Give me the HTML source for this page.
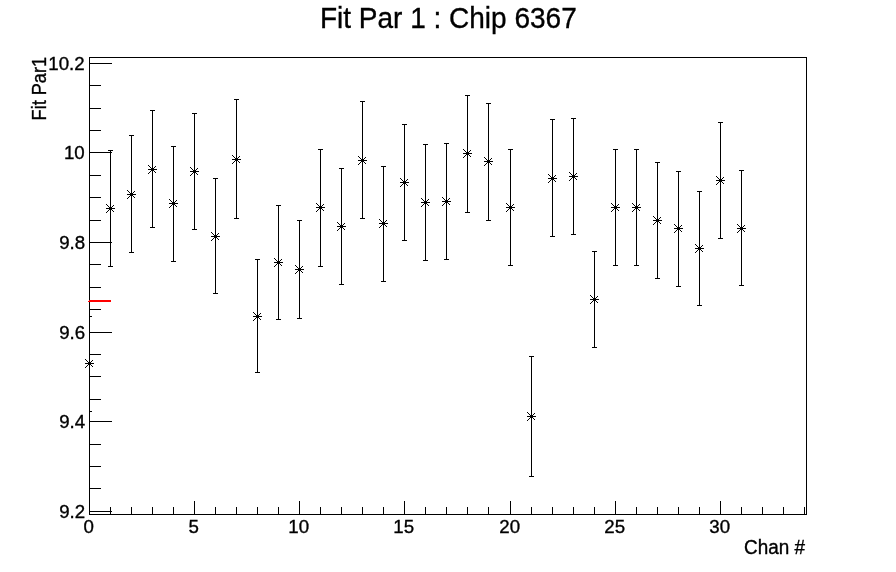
<!DOCTYPE html>
<html><head><meta charset="utf-8"><title>Fit Par 1 : Chip 6367</title>
<style>
html,body{margin:0;padding:0;background:#fff;}
svg{display:block;will-change:transform;}
text{font-family:"Liberation Sans",sans-serif;fill:#000;stroke:#000;stroke-width:0.35px;}
</style></head><body>
<svg width="896" height="572" viewBox="0 0 896 572">
<rect x="0" y="0" width="896" height="572" fill="#ffffff"/>
<g shape-rendering="crispEdges">
<rect x="89" y="57" width="718" height="1" fill="#000"/>
<rect x="89" y="514" width="718" height="1" fill="#000"/>
<rect x="89" y="57" width="1" height="458" fill="#000"/>
<rect x="806" y="57" width="1" height="458" fill="#000"/>
<rect x="89" y="63" width="23" height="1" fill="#000"/>
<rect x="89" y="85" width="12" height="1" fill="#000"/>
<rect x="89" y="108" width="12" height="1" fill="#000"/>
<rect x="89" y="130" width="12" height="1" fill="#000"/>
<rect x="89" y="152" width="23" height="1" fill="#000"/>
<rect x="89" y="175" width="12" height="1" fill="#000"/>
<rect x="89" y="197" width="12" height="1" fill="#000"/>
<rect x="89" y="220" width="12" height="1" fill="#000"/>
<rect x="89" y="242" width="23" height="1" fill="#000"/>
<rect x="89" y="264" width="12" height="1" fill="#000"/>
<rect x="89" y="287" width="12" height="1" fill="#000"/>
<rect x="89" y="309" width="12" height="1" fill="#000"/>
<rect x="89" y="332" width="23" height="1" fill="#000"/>
<rect x="89" y="354" width="12" height="1" fill="#000"/>
<rect x="89" y="376" width="12" height="1" fill="#000"/>
<rect x="89" y="399" width="12" height="1" fill="#000"/>
<rect x="89" y="421" width="23" height="1" fill="#000"/>
<rect x="89" y="444" width="12" height="1" fill="#000"/>
<rect x="89" y="466" width="12" height="1" fill="#000"/>
<rect x="89" y="488" width="12" height="1" fill="#000"/>
<rect x="89" y="511" width="23" height="1" fill="#000"/>
<rect x="89" y="501" width="1" height="14" fill="#000"/>
<rect x="110" y="507" width="1" height="8" fill="#000"/>
<rect x="131" y="507" width="1" height="8" fill="#000"/>
<rect x="152" y="507" width="1" height="8" fill="#000"/>
<rect x="173" y="507" width="1" height="8" fill="#000"/>
<rect x="194" y="501" width="1" height="14" fill="#000"/>
<rect x="215" y="507" width="1" height="8" fill="#000"/>
<rect x="236" y="507" width="1" height="8" fill="#000"/>
<rect x="257" y="507" width="1" height="8" fill="#000"/>
<rect x="278" y="507" width="1" height="8" fill="#000"/>
<rect x="299" y="501" width="1" height="14" fill="#000"/>
<rect x="320" y="507" width="1" height="8" fill="#000"/>
<rect x="341" y="507" width="1" height="8" fill="#000"/>
<rect x="362" y="507" width="1" height="8" fill="#000"/>
<rect x="383" y="507" width="1" height="8" fill="#000"/>
<rect x="404" y="501" width="1" height="14" fill="#000"/>
<rect x="425" y="507" width="1" height="8" fill="#000"/>
<rect x="446" y="507" width="1" height="8" fill="#000"/>
<rect x="467" y="507" width="1" height="8" fill="#000"/>
<rect x="488" y="507" width="1" height="8" fill="#000"/>
<rect x="510" y="501" width="1" height="14" fill="#000"/>
<rect x="531" y="507" width="1" height="8" fill="#000"/>
<rect x="552" y="507" width="1" height="8" fill="#000"/>
<rect x="573" y="507" width="1" height="8" fill="#000"/>
<rect x="594" y="507" width="1" height="8" fill="#000"/>
<rect x="615" y="501" width="1" height="14" fill="#000"/>
<rect x="636" y="507" width="1" height="8" fill="#000"/>
<rect x="657" y="507" width="1" height="8" fill="#000"/>
<rect x="678" y="507" width="1" height="8" fill="#000"/>
<rect x="699" y="507" width="1" height="8" fill="#000"/>
<rect x="720" y="501" width="1" height="14" fill="#000"/>
<rect x="741" y="507" width="1" height="8" fill="#000"/>
<rect x="762" y="507" width="1" height="8" fill="#000"/>
<rect x="783" y="507" width="1" height="8" fill="#000"/>
<rect x="804" y="507" width="1" height="8" fill="#000"/>
<rect x="89" y="316" width="1" height="96" fill="#000"/>
<rect x="89" y="316" width="3" height="1" fill="#000"/>
<rect x="89" y="411" width="3" height="1" fill="#000"/>
<rect x="85" y="363" width="9" height="1" fill="#000"/>
<rect x="89" y="359" width="1" height="9" fill="#000"/>
<rect x="88" y="362" width="3" height="3" fill="#000"/>
<rect x="88" y="362" width="1" height="1" fill="#000"/>
<rect x="88" y="364" width="1" height="1" fill="#000"/>
<rect x="87" y="361" width="1" height="1" fill="#000"/>
<rect x="87" y="365" width="1" height="1" fill="#000"/>
<rect x="86" y="360" width="1" height="1" fill="#000"/>
<rect x="86" y="366" width="1" height="1" fill="#000"/>
<rect x="85" y="359" width="1" height="1" fill="#000"/>
<rect x="85" y="367" width="1" height="1" fill="#000"/>
<rect x="90" y="362" width="1" height="1" fill="#000"/>
<rect x="90" y="364" width="1" height="1" fill="#000"/>
<rect x="91" y="361" width="1" height="1" fill="#000"/>
<rect x="91" y="365" width="1" height="1" fill="#000"/>
<rect x="92" y="360" width="1" height="1" fill="#000"/>
<rect x="92" y="366" width="1" height="1" fill="#000"/>
<rect x="110" y="150" width="1" height="117" fill="#000"/>
<rect x="108" y="150" width="5" height="1" fill="#000"/>
<rect x="108" y="266" width="5" height="1" fill="#000"/>
<rect x="106" y="208" width="9" height="1" fill="#000"/>
<rect x="110" y="204" width="1" height="9" fill="#000"/>
<rect x="109" y="207" width="3" height="3" fill="#000"/>
<rect x="109" y="207" width="1" height="1" fill="#000"/>
<rect x="109" y="209" width="1" height="1" fill="#000"/>
<rect x="108" y="206" width="1" height="1" fill="#000"/>
<rect x="108" y="210" width="1" height="1" fill="#000"/>
<rect x="107" y="205" width="1" height="1" fill="#000"/>
<rect x="107" y="211" width="1" height="1" fill="#000"/>
<rect x="106" y="204" width="1" height="1" fill="#000"/>
<rect x="106" y="212" width="1" height="1" fill="#000"/>
<rect x="111" y="207" width="1" height="1" fill="#000"/>
<rect x="111" y="209" width="1" height="1" fill="#000"/>
<rect x="112" y="206" width="1" height="1" fill="#000"/>
<rect x="112" y="210" width="1" height="1" fill="#000"/>
<rect x="113" y="205" width="1" height="1" fill="#000"/>
<rect x="113" y="211" width="1" height="1" fill="#000"/>
<rect x="131" y="135" width="1" height="118" fill="#000"/>
<rect x="129" y="135" width="5" height="1" fill="#000"/>
<rect x="129" y="252" width="5" height="1" fill="#000"/>
<rect x="127" y="194" width="9" height="1" fill="#000"/>
<rect x="131" y="190" width="1" height="9" fill="#000"/>
<rect x="130" y="193" width="3" height="3" fill="#000"/>
<rect x="130" y="193" width="1" height="1" fill="#000"/>
<rect x="130" y="195" width="1" height="1" fill="#000"/>
<rect x="129" y="192" width="1" height="1" fill="#000"/>
<rect x="129" y="196" width="1" height="1" fill="#000"/>
<rect x="128" y="191" width="1" height="1" fill="#000"/>
<rect x="128" y="197" width="1" height="1" fill="#000"/>
<rect x="127" y="190" width="1" height="1" fill="#000"/>
<rect x="127" y="198" width="1" height="1" fill="#000"/>
<rect x="132" y="193" width="1" height="1" fill="#000"/>
<rect x="132" y="195" width="1" height="1" fill="#000"/>
<rect x="133" y="192" width="1" height="1" fill="#000"/>
<rect x="133" y="196" width="1" height="1" fill="#000"/>
<rect x="134" y="191" width="1" height="1" fill="#000"/>
<rect x="134" y="197" width="1" height="1" fill="#000"/>
<rect x="152" y="110" width="1" height="118" fill="#000"/>
<rect x="150" y="110" width="5" height="1" fill="#000"/>
<rect x="150" y="227" width="5" height="1" fill="#000"/>
<rect x="148" y="169" width="9" height="1" fill="#000"/>
<rect x="152" y="165" width="1" height="9" fill="#000"/>
<rect x="151" y="168" width="3" height="3" fill="#000"/>
<rect x="151" y="168" width="1" height="1" fill="#000"/>
<rect x="151" y="170" width="1" height="1" fill="#000"/>
<rect x="150" y="167" width="1" height="1" fill="#000"/>
<rect x="150" y="171" width="1" height="1" fill="#000"/>
<rect x="149" y="166" width="1" height="1" fill="#000"/>
<rect x="149" y="172" width="1" height="1" fill="#000"/>
<rect x="148" y="165" width="1" height="1" fill="#000"/>
<rect x="148" y="173" width="1" height="1" fill="#000"/>
<rect x="153" y="168" width="1" height="1" fill="#000"/>
<rect x="153" y="170" width="1" height="1" fill="#000"/>
<rect x="154" y="167" width="1" height="1" fill="#000"/>
<rect x="154" y="171" width="1" height="1" fill="#000"/>
<rect x="155" y="166" width="1" height="1" fill="#000"/>
<rect x="155" y="172" width="1" height="1" fill="#000"/>
<rect x="173" y="146" width="1" height="116" fill="#000"/>
<rect x="171" y="146" width="5" height="1" fill="#000"/>
<rect x="171" y="261" width="5" height="1" fill="#000"/>
<rect x="169" y="203" width="9" height="1" fill="#000"/>
<rect x="173" y="199" width="1" height="9" fill="#000"/>
<rect x="172" y="202" width="3" height="3" fill="#000"/>
<rect x="172" y="202" width="1" height="1" fill="#000"/>
<rect x="172" y="204" width="1" height="1" fill="#000"/>
<rect x="171" y="201" width="1" height="1" fill="#000"/>
<rect x="171" y="205" width="1" height="1" fill="#000"/>
<rect x="170" y="200" width="1" height="1" fill="#000"/>
<rect x="170" y="206" width="1" height="1" fill="#000"/>
<rect x="169" y="199" width="1" height="1" fill="#000"/>
<rect x="169" y="207" width="1" height="1" fill="#000"/>
<rect x="174" y="202" width="1" height="1" fill="#000"/>
<rect x="174" y="204" width="1" height="1" fill="#000"/>
<rect x="175" y="201" width="1" height="1" fill="#000"/>
<rect x="175" y="205" width="1" height="1" fill="#000"/>
<rect x="176" y="200" width="1" height="1" fill="#000"/>
<rect x="176" y="206" width="1" height="1" fill="#000"/>
<rect x="194" y="113" width="1" height="117" fill="#000"/>
<rect x="192" y="113" width="5" height="1" fill="#000"/>
<rect x="192" y="229" width="5" height="1" fill="#000"/>
<rect x="190" y="171" width="9" height="1" fill="#000"/>
<rect x="194" y="167" width="1" height="9" fill="#000"/>
<rect x="193" y="170" width="3" height="3" fill="#000"/>
<rect x="193" y="170" width="1" height="1" fill="#000"/>
<rect x="193" y="172" width="1" height="1" fill="#000"/>
<rect x="192" y="169" width="1" height="1" fill="#000"/>
<rect x="192" y="173" width="1" height="1" fill="#000"/>
<rect x="191" y="168" width="1" height="1" fill="#000"/>
<rect x="191" y="174" width="1" height="1" fill="#000"/>
<rect x="190" y="167" width="1" height="1" fill="#000"/>
<rect x="190" y="175" width="1" height="1" fill="#000"/>
<rect x="195" y="170" width="1" height="1" fill="#000"/>
<rect x="195" y="172" width="1" height="1" fill="#000"/>
<rect x="196" y="169" width="1" height="1" fill="#000"/>
<rect x="196" y="173" width="1" height="1" fill="#000"/>
<rect x="197" y="168" width="1" height="1" fill="#000"/>
<rect x="197" y="174" width="1" height="1" fill="#000"/>
<rect x="215" y="178" width="1" height="116" fill="#000"/>
<rect x="213" y="178" width="5" height="1" fill="#000"/>
<rect x="213" y="293" width="5" height="1" fill="#000"/>
<rect x="211" y="236" width="9" height="1" fill="#000"/>
<rect x="215" y="232" width="1" height="9" fill="#000"/>
<rect x="214" y="235" width="3" height="3" fill="#000"/>
<rect x="214" y="235" width="1" height="1" fill="#000"/>
<rect x="214" y="237" width="1" height="1" fill="#000"/>
<rect x="213" y="234" width="1" height="1" fill="#000"/>
<rect x="213" y="238" width="1" height="1" fill="#000"/>
<rect x="212" y="233" width="1" height="1" fill="#000"/>
<rect x="212" y="239" width="1" height="1" fill="#000"/>
<rect x="211" y="232" width="1" height="1" fill="#000"/>
<rect x="211" y="240" width="1" height="1" fill="#000"/>
<rect x="216" y="235" width="1" height="1" fill="#000"/>
<rect x="216" y="237" width="1" height="1" fill="#000"/>
<rect x="217" y="234" width="1" height="1" fill="#000"/>
<rect x="217" y="238" width="1" height="1" fill="#000"/>
<rect x="218" y="233" width="1" height="1" fill="#000"/>
<rect x="218" y="239" width="1" height="1" fill="#000"/>
<rect x="236" y="99" width="1" height="120" fill="#000"/>
<rect x="234" y="99" width="5" height="1" fill="#000"/>
<rect x="234" y="218" width="5" height="1" fill="#000"/>
<rect x="232" y="159" width="9" height="1" fill="#000"/>
<rect x="236" y="155" width="1" height="9" fill="#000"/>
<rect x="235" y="158" width="3" height="3" fill="#000"/>
<rect x="235" y="158" width="1" height="1" fill="#000"/>
<rect x="235" y="160" width="1" height="1" fill="#000"/>
<rect x="234" y="157" width="1" height="1" fill="#000"/>
<rect x="234" y="161" width="1" height="1" fill="#000"/>
<rect x="233" y="156" width="1" height="1" fill="#000"/>
<rect x="233" y="162" width="1" height="1" fill="#000"/>
<rect x="232" y="155" width="1" height="1" fill="#000"/>
<rect x="232" y="163" width="1" height="1" fill="#000"/>
<rect x="237" y="158" width="1" height="1" fill="#000"/>
<rect x="237" y="160" width="1" height="1" fill="#000"/>
<rect x="238" y="157" width="1" height="1" fill="#000"/>
<rect x="238" y="161" width="1" height="1" fill="#000"/>
<rect x="239" y="156" width="1" height="1" fill="#000"/>
<rect x="239" y="162" width="1" height="1" fill="#000"/>
<rect x="257" y="259" width="1" height="114" fill="#000"/>
<rect x="255" y="259" width="5" height="1" fill="#000"/>
<rect x="255" y="372" width="5" height="1" fill="#000"/>
<rect x="253" y="316" width="9" height="1" fill="#000"/>
<rect x="257" y="312" width="1" height="9" fill="#000"/>
<rect x="256" y="315" width="3" height="3" fill="#000"/>
<rect x="256" y="315" width="1" height="1" fill="#000"/>
<rect x="256" y="317" width="1" height="1" fill="#000"/>
<rect x="255" y="314" width="1" height="1" fill="#000"/>
<rect x="255" y="318" width="1" height="1" fill="#000"/>
<rect x="254" y="313" width="1" height="1" fill="#000"/>
<rect x="254" y="319" width="1" height="1" fill="#000"/>
<rect x="253" y="312" width="1" height="1" fill="#000"/>
<rect x="253" y="320" width="1" height="1" fill="#000"/>
<rect x="258" y="315" width="1" height="1" fill="#000"/>
<rect x="258" y="317" width="1" height="1" fill="#000"/>
<rect x="259" y="314" width="1" height="1" fill="#000"/>
<rect x="259" y="318" width="1" height="1" fill="#000"/>
<rect x="260" y="313" width="1" height="1" fill="#000"/>
<rect x="260" y="319" width="1" height="1" fill="#000"/>
<rect x="278" y="205" width="1" height="115" fill="#000"/>
<rect x="276" y="205" width="5" height="1" fill="#000"/>
<rect x="276" y="319" width="5" height="1" fill="#000"/>
<rect x="274" y="262" width="9" height="1" fill="#000"/>
<rect x="278" y="258" width="1" height="9" fill="#000"/>
<rect x="277" y="261" width="3" height="3" fill="#000"/>
<rect x="277" y="261" width="1" height="1" fill="#000"/>
<rect x="277" y="263" width="1" height="1" fill="#000"/>
<rect x="276" y="260" width="1" height="1" fill="#000"/>
<rect x="276" y="264" width="1" height="1" fill="#000"/>
<rect x="275" y="259" width="1" height="1" fill="#000"/>
<rect x="275" y="265" width="1" height="1" fill="#000"/>
<rect x="274" y="258" width="1" height="1" fill="#000"/>
<rect x="274" y="266" width="1" height="1" fill="#000"/>
<rect x="279" y="261" width="1" height="1" fill="#000"/>
<rect x="279" y="263" width="1" height="1" fill="#000"/>
<rect x="280" y="260" width="1" height="1" fill="#000"/>
<rect x="280" y="264" width="1" height="1" fill="#000"/>
<rect x="281" y="259" width="1" height="1" fill="#000"/>
<rect x="281" y="265" width="1" height="1" fill="#000"/>
<rect x="299" y="220" width="1" height="99" fill="#000"/>
<rect x="297" y="220" width="5" height="1" fill="#000"/>
<rect x="297" y="318" width="5" height="1" fill="#000"/>
<rect x="295" y="269" width="9" height="1" fill="#000"/>
<rect x="299" y="265" width="1" height="9" fill="#000"/>
<rect x="298" y="268" width="3" height="3" fill="#000"/>
<rect x="298" y="268" width="1" height="1" fill="#000"/>
<rect x="298" y="270" width="1" height="1" fill="#000"/>
<rect x="297" y="267" width="1" height="1" fill="#000"/>
<rect x="297" y="271" width="1" height="1" fill="#000"/>
<rect x="296" y="266" width="1" height="1" fill="#000"/>
<rect x="296" y="272" width="1" height="1" fill="#000"/>
<rect x="295" y="265" width="1" height="1" fill="#000"/>
<rect x="295" y="273" width="1" height="1" fill="#000"/>
<rect x="300" y="268" width="1" height="1" fill="#000"/>
<rect x="300" y="270" width="1" height="1" fill="#000"/>
<rect x="301" y="267" width="1" height="1" fill="#000"/>
<rect x="301" y="271" width="1" height="1" fill="#000"/>
<rect x="302" y="266" width="1" height="1" fill="#000"/>
<rect x="302" y="272" width="1" height="1" fill="#000"/>
<rect x="320" y="149" width="1" height="118" fill="#000"/>
<rect x="318" y="149" width="5" height="1" fill="#000"/>
<rect x="318" y="266" width="5" height="1" fill="#000"/>
<rect x="316" y="207" width="9" height="1" fill="#000"/>
<rect x="320" y="203" width="1" height="9" fill="#000"/>
<rect x="319" y="206" width="3" height="3" fill="#000"/>
<rect x="319" y="206" width="1" height="1" fill="#000"/>
<rect x="319" y="208" width="1" height="1" fill="#000"/>
<rect x="318" y="205" width="1" height="1" fill="#000"/>
<rect x="318" y="209" width="1" height="1" fill="#000"/>
<rect x="317" y="204" width="1" height="1" fill="#000"/>
<rect x="317" y="210" width="1" height="1" fill="#000"/>
<rect x="316" y="203" width="1" height="1" fill="#000"/>
<rect x="316" y="211" width="1" height="1" fill="#000"/>
<rect x="321" y="206" width="1" height="1" fill="#000"/>
<rect x="321" y="208" width="1" height="1" fill="#000"/>
<rect x="322" y="205" width="1" height="1" fill="#000"/>
<rect x="322" y="209" width="1" height="1" fill="#000"/>
<rect x="323" y="204" width="1" height="1" fill="#000"/>
<rect x="323" y="210" width="1" height="1" fill="#000"/>
<rect x="341" y="168" width="1" height="117" fill="#000"/>
<rect x="339" y="168" width="5" height="1" fill="#000"/>
<rect x="339" y="284" width="5" height="1" fill="#000"/>
<rect x="337" y="226" width="9" height="1" fill="#000"/>
<rect x="341" y="222" width="1" height="9" fill="#000"/>
<rect x="340" y="225" width="3" height="3" fill="#000"/>
<rect x="340" y="225" width="1" height="1" fill="#000"/>
<rect x="340" y="227" width="1" height="1" fill="#000"/>
<rect x="339" y="224" width="1" height="1" fill="#000"/>
<rect x="339" y="228" width="1" height="1" fill="#000"/>
<rect x="338" y="223" width="1" height="1" fill="#000"/>
<rect x="338" y="229" width="1" height="1" fill="#000"/>
<rect x="337" y="222" width="1" height="1" fill="#000"/>
<rect x="337" y="230" width="1" height="1" fill="#000"/>
<rect x="342" y="225" width="1" height="1" fill="#000"/>
<rect x="342" y="227" width="1" height="1" fill="#000"/>
<rect x="343" y="224" width="1" height="1" fill="#000"/>
<rect x="343" y="228" width="1" height="1" fill="#000"/>
<rect x="344" y="223" width="1" height="1" fill="#000"/>
<rect x="344" y="229" width="1" height="1" fill="#000"/>
<rect x="362" y="101" width="1" height="118" fill="#000"/>
<rect x="360" y="101" width="5" height="1" fill="#000"/>
<rect x="360" y="218" width="5" height="1" fill="#000"/>
<rect x="358" y="160" width="9" height="1" fill="#000"/>
<rect x="362" y="156" width="1" height="9" fill="#000"/>
<rect x="361" y="159" width="3" height="3" fill="#000"/>
<rect x="361" y="159" width="1" height="1" fill="#000"/>
<rect x="361" y="161" width="1" height="1" fill="#000"/>
<rect x="360" y="158" width="1" height="1" fill="#000"/>
<rect x="360" y="162" width="1" height="1" fill="#000"/>
<rect x="359" y="157" width="1" height="1" fill="#000"/>
<rect x="359" y="163" width="1" height="1" fill="#000"/>
<rect x="358" y="156" width="1" height="1" fill="#000"/>
<rect x="358" y="164" width="1" height="1" fill="#000"/>
<rect x="363" y="159" width="1" height="1" fill="#000"/>
<rect x="363" y="161" width="1" height="1" fill="#000"/>
<rect x="364" y="158" width="1" height="1" fill="#000"/>
<rect x="364" y="162" width="1" height="1" fill="#000"/>
<rect x="365" y="157" width="1" height="1" fill="#000"/>
<rect x="365" y="163" width="1" height="1" fill="#000"/>
<rect x="383" y="166" width="1" height="116" fill="#000"/>
<rect x="381" y="166" width="5" height="1" fill="#000"/>
<rect x="381" y="281" width="5" height="1" fill="#000"/>
<rect x="379" y="223" width="9" height="1" fill="#000"/>
<rect x="383" y="219" width="1" height="9" fill="#000"/>
<rect x="382" y="222" width="3" height="3" fill="#000"/>
<rect x="382" y="222" width="1" height="1" fill="#000"/>
<rect x="382" y="224" width="1" height="1" fill="#000"/>
<rect x="381" y="221" width="1" height="1" fill="#000"/>
<rect x="381" y="225" width="1" height="1" fill="#000"/>
<rect x="380" y="220" width="1" height="1" fill="#000"/>
<rect x="380" y="226" width="1" height="1" fill="#000"/>
<rect x="379" y="219" width="1" height="1" fill="#000"/>
<rect x="379" y="227" width="1" height="1" fill="#000"/>
<rect x="384" y="222" width="1" height="1" fill="#000"/>
<rect x="384" y="224" width="1" height="1" fill="#000"/>
<rect x="385" y="221" width="1" height="1" fill="#000"/>
<rect x="385" y="225" width="1" height="1" fill="#000"/>
<rect x="386" y="220" width="1" height="1" fill="#000"/>
<rect x="386" y="226" width="1" height="1" fill="#000"/>
<rect x="404" y="124" width="1" height="117" fill="#000"/>
<rect x="402" y="124" width="5" height="1" fill="#000"/>
<rect x="402" y="240" width="5" height="1" fill="#000"/>
<rect x="400" y="182" width="9" height="1" fill="#000"/>
<rect x="404" y="178" width="1" height="9" fill="#000"/>
<rect x="403" y="181" width="3" height="3" fill="#000"/>
<rect x="403" y="181" width="1" height="1" fill="#000"/>
<rect x="403" y="183" width="1" height="1" fill="#000"/>
<rect x="402" y="180" width="1" height="1" fill="#000"/>
<rect x="402" y="184" width="1" height="1" fill="#000"/>
<rect x="401" y="179" width="1" height="1" fill="#000"/>
<rect x="401" y="185" width="1" height="1" fill="#000"/>
<rect x="400" y="178" width="1" height="1" fill="#000"/>
<rect x="400" y="186" width="1" height="1" fill="#000"/>
<rect x="405" y="181" width="1" height="1" fill="#000"/>
<rect x="405" y="183" width="1" height="1" fill="#000"/>
<rect x="406" y="180" width="1" height="1" fill="#000"/>
<rect x="406" y="184" width="1" height="1" fill="#000"/>
<rect x="407" y="179" width="1" height="1" fill="#000"/>
<rect x="407" y="185" width="1" height="1" fill="#000"/>
<rect x="425" y="144" width="1" height="117" fill="#000"/>
<rect x="423" y="144" width="5" height="1" fill="#000"/>
<rect x="423" y="260" width="5" height="1" fill="#000"/>
<rect x="421" y="202" width="9" height="1" fill="#000"/>
<rect x="425" y="198" width="1" height="9" fill="#000"/>
<rect x="424" y="201" width="3" height="3" fill="#000"/>
<rect x="424" y="201" width="1" height="1" fill="#000"/>
<rect x="424" y="203" width="1" height="1" fill="#000"/>
<rect x="423" y="200" width="1" height="1" fill="#000"/>
<rect x="423" y="204" width="1" height="1" fill="#000"/>
<rect x="422" y="199" width="1" height="1" fill="#000"/>
<rect x="422" y="205" width="1" height="1" fill="#000"/>
<rect x="421" y="198" width="1" height="1" fill="#000"/>
<rect x="421" y="206" width="1" height="1" fill="#000"/>
<rect x="426" y="201" width="1" height="1" fill="#000"/>
<rect x="426" y="203" width="1" height="1" fill="#000"/>
<rect x="427" y="200" width="1" height="1" fill="#000"/>
<rect x="427" y="204" width="1" height="1" fill="#000"/>
<rect x="428" y="199" width="1" height="1" fill="#000"/>
<rect x="428" y="205" width="1" height="1" fill="#000"/>
<rect x="446" y="143" width="1" height="117" fill="#000"/>
<rect x="444" y="143" width="5" height="1" fill="#000"/>
<rect x="444" y="259" width="5" height="1" fill="#000"/>
<rect x="442" y="201" width="9" height="1" fill="#000"/>
<rect x="446" y="197" width="1" height="9" fill="#000"/>
<rect x="445" y="200" width="3" height="3" fill="#000"/>
<rect x="445" y="200" width="1" height="1" fill="#000"/>
<rect x="445" y="202" width="1" height="1" fill="#000"/>
<rect x="444" y="199" width="1" height="1" fill="#000"/>
<rect x="444" y="203" width="1" height="1" fill="#000"/>
<rect x="443" y="198" width="1" height="1" fill="#000"/>
<rect x="443" y="204" width="1" height="1" fill="#000"/>
<rect x="442" y="197" width="1" height="1" fill="#000"/>
<rect x="442" y="205" width="1" height="1" fill="#000"/>
<rect x="447" y="200" width="1" height="1" fill="#000"/>
<rect x="447" y="202" width="1" height="1" fill="#000"/>
<rect x="448" y="199" width="1" height="1" fill="#000"/>
<rect x="448" y="203" width="1" height="1" fill="#000"/>
<rect x="449" y="198" width="1" height="1" fill="#000"/>
<rect x="449" y="204" width="1" height="1" fill="#000"/>
<rect x="467" y="95" width="1" height="118" fill="#000"/>
<rect x="465" y="95" width="5" height="1" fill="#000"/>
<rect x="465" y="212" width="5" height="1" fill="#000"/>
<rect x="463" y="153" width="9" height="1" fill="#000"/>
<rect x="467" y="149" width="1" height="9" fill="#000"/>
<rect x="466" y="152" width="3" height="3" fill="#000"/>
<rect x="466" y="152" width="1" height="1" fill="#000"/>
<rect x="466" y="154" width="1" height="1" fill="#000"/>
<rect x="465" y="151" width="1" height="1" fill="#000"/>
<rect x="465" y="155" width="1" height="1" fill="#000"/>
<rect x="464" y="150" width="1" height="1" fill="#000"/>
<rect x="464" y="156" width="1" height="1" fill="#000"/>
<rect x="463" y="149" width="1" height="1" fill="#000"/>
<rect x="463" y="157" width="1" height="1" fill="#000"/>
<rect x="468" y="152" width="1" height="1" fill="#000"/>
<rect x="468" y="154" width="1" height="1" fill="#000"/>
<rect x="469" y="151" width="1" height="1" fill="#000"/>
<rect x="469" y="155" width="1" height="1" fill="#000"/>
<rect x="470" y="150" width="1" height="1" fill="#000"/>
<rect x="470" y="156" width="1" height="1" fill="#000"/>
<rect x="488" y="103" width="1" height="118" fill="#000"/>
<rect x="486" y="103" width="5" height="1" fill="#000"/>
<rect x="486" y="220" width="5" height="1" fill="#000"/>
<rect x="484" y="161" width="9" height="1" fill="#000"/>
<rect x="488" y="157" width="1" height="9" fill="#000"/>
<rect x="487" y="160" width="3" height="3" fill="#000"/>
<rect x="487" y="160" width="1" height="1" fill="#000"/>
<rect x="487" y="162" width="1" height="1" fill="#000"/>
<rect x="486" y="159" width="1" height="1" fill="#000"/>
<rect x="486" y="163" width="1" height="1" fill="#000"/>
<rect x="485" y="158" width="1" height="1" fill="#000"/>
<rect x="485" y="164" width="1" height="1" fill="#000"/>
<rect x="484" y="157" width="1" height="1" fill="#000"/>
<rect x="484" y="165" width="1" height="1" fill="#000"/>
<rect x="489" y="160" width="1" height="1" fill="#000"/>
<rect x="489" y="162" width="1" height="1" fill="#000"/>
<rect x="490" y="159" width="1" height="1" fill="#000"/>
<rect x="490" y="163" width="1" height="1" fill="#000"/>
<rect x="491" y="158" width="1" height="1" fill="#000"/>
<rect x="491" y="164" width="1" height="1" fill="#000"/>
<rect x="510" y="149" width="1" height="117" fill="#000"/>
<rect x="508" y="149" width="5" height="1" fill="#000"/>
<rect x="508" y="265" width="5" height="1" fill="#000"/>
<rect x="506" y="207" width="9" height="1" fill="#000"/>
<rect x="510" y="203" width="1" height="9" fill="#000"/>
<rect x="509" y="206" width="3" height="3" fill="#000"/>
<rect x="509" y="206" width="1" height="1" fill="#000"/>
<rect x="509" y="208" width="1" height="1" fill="#000"/>
<rect x="508" y="205" width="1" height="1" fill="#000"/>
<rect x="508" y="209" width="1" height="1" fill="#000"/>
<rect x="507" y="204" width="1" height="1" fill="#000"/>
<rect x="507" y="210" width="1" height="1" fill="#000"/>
<rect x="506" y="203" width="1" height="1" fill="#000"/>
<rect x="506" y="211" width="1" height="1" fill="#000"/>
<rect x="511" y="206" width="1" height="1" fill="#000"/>
<rect x="511" y="208" width="1" height="1" fill="#000"/>
<rect x="512" y="205" width="1" height="1" fill="#000"/>
<rect x="512" y="209" width="1" height="1" fill="#000"/>
<rect x="513" y="204" width="1" height="1" fill="#000"/>
<rect x="513" y="210" width="1" height="1" fill="#000"/>
<rect x="531" y="356" width="1" height="121" fill="#000"/>
<rect x="529" y="356" width="5" height="1" fill="#000"/>
<rect x="529" y="476" width="5" height="1" fill="#000"/>
<rect x="527" y="416" width="9" height="1" fill="#000"/>
<rect x="531" y="412" width="1" height="9" fill="#000"/>
<rect x="530" y="415" width="3" height="3" fill="#000"/>
<rect x="530" y="415" width="1" height="1" fill="#000"/>
<rect x="530" y="417" width="1" height="1" fill="#000"/>
<rect x="529" y="414" width="1" height="1" fill="#000"/>
<rect x="529" y="418" width="1" height="1" fill="#000"/>
<rect x="528" y="413" width="1" height="1" fill="#000"/>
<rect x="528" y="419" width="1" height="1" fill="#000"/>
<rect x="527" y="412" width="1" height="1" fill="#000"/>
<rect x="527" y="420" width="1" height="1" fill="#000"/>
<rect x="532" y="415" width="1" height="1" fill="#000"/>
<rect x="532" y="417" width="1" height="1" fill="#000"/>
<rect x="533" y="414" width="1" height="1" fill="#000"/>
<rect x="533" y="418" width="1" height="1" fill="#000"/>
<rect x="534" y="413" width="1" height="1" fill="#000"/>
<rect x="534" y="419" width="1" height="1" fill="#000"/>
<rect x="552" y="119" width="1" height="118" fill="#000"/>
<rect x="550" y="119" width="5" height="1" fill="#000"/>
<rect x="550" y="236" width="5" height="1" fill="#000"/>
<rect x="548" y="178" width="9" height="1" fill="#000"/>
<rect x="552" y="174" width="1" height="9" fill="#000"/>
<rect x="551" y="177" width="3" height="3" fill="#000"/>
<rect x="551" y="177" width="1" height="1" fill="#000"/>
<rect x="551" y="179" width="1" height="1" fill="#000"/>
<rect x="550" y="176" width="1" height="1" fill="#000"/>
<rect x="550" y="180" width="1" height="1" fill="#000"/>
<rect x="549" y="175" width="1" height="1" fill="#000"/>
<rect x="549" y="181" width="1" height="1" fill="#000"/>
<rect x="548" y="174" width="1" height="1" fill="#000"/>
<rect x="548" y="182" width="1" height="1" fill="#000"/>
<rect x="553" y="177" width="1" height="1" fill="#000"/>
<rect x="553" y="179" width="1" height="1" fill="#000"/>
<rect x="554" y="176" width="1" height="1" fill="#000"/>
<rect x="554" y="180" width="1" height="1" fill="#000"/>
<rect x="555" y="175" width="1" height="1" fill="#000"/>
<rect x="555" y="181" width="1" height="1" fill="#000"/>
<rect x="573" y="118" width="1" height="117" fill="#000"/>
<rect x="571" y="118" width="5" height="1" fill="#000"/>
<rect x="571" y="234" width="5" height="1" fill="#000"/>
<rect x="569" y="176" width="9" height="1" fill="#000"/>
<rect x="573" y="172" width="1" height="9" fill="#000"/>
<rect x="572" y="175" width="3" height="3" fill="#000"/>
<rect x="572" y="175" width="1" height="1" fill="#000"/>
<rect x="572" y="177" width="1" height="1" fill="#000"/>
<rect x="571" y="174" width="1" height="1" fill="#000"/>
<rect x="571" y="178" width="1" height="1" fill="#000"/>
<rect x="570" y="173" width="1" height="1" fill="#000"/>
<rect x="570" y="179" width="1" height="1" fill="#000"/>
<rect x="569" y="172" width="1" height="1" fill="#000"/>
<rect x="569" y="180" width="1" height="1" fill="#000"/>
<rect x="574" y="175" width="1" height="1" fill="#000"/>
<rect x="574" y="177" width="1" height="1" fill="#000"/>
<rect x="575" y="174" width="1" height="1" fill="#000"/>
<rect x="575" y="178" width="1" height="1" fill="#000"/>
<rect x="576" y="173" width="1" height="1" fill="#000"/>
<rect x="576" y="179" width="1" height="1" fill="#000"/>
<rect x="594" y="251" width="1" height="97" fill="#000"/>
<rect x="592" y="251" width="5" height="1" fill="#000"/>
<rect x="592" y="347" width="5" height="1" fill="#000"/>
<rect x="590" y="299" width="9" height="1" fill="#000"/>
<rect x="594" y="295" width="1" height="9" fill="#000"/>
<rect x="593" y="298" width="3" height="3" fill="#000"/>
<rect x="593" y="298" width="1" height="1" fill="#000"/>
<rect x="593" y="300" width="1" height="1" fill="#000"/>
<rect x="592" y="297" width="1" height="1" fill="#000"/>
<rect x="592" y="301" width="1" height="1" fill="#000"/>
<rect x="591" y="296" width="1" height="1" fill="#000"/>
<rect x="591" y="302" width="1" height="1" fill="#000"/>
<rect x="590" y="295" width="1" height="1" fill="#000"/>
<rect x="590" y="303" width="1" height="1" fill="#000"/>
<rect x="595" y="298" width="1" height="1" fill="#000"/>
<rect x="595" y="300" width="1" height="1" fill="#000"/>
<rect x="596" y="297" width="1" height="1" fill="#000"/>
<rect x="596" y="301" width="1" height="1" fill="#000"/>
<rect x="597" y="296" width="1" height="1" fill="#000"/>
<rect x="597" y="302" width="1" height="1" fill="#000"/>
<rect x="615" y="149" width="1" height="117" fill="#000"/>
<rect x="613" y="149" width="5" height="1" fill="#000"/>
<rect x="613" y="265" width="5" height="1" fill="#000"/>
<rect x="611" y="207" width="9" height="1" fill="#000"/>
<rect x="615" y="203" width="1" height="9" fill="#000"/>
<rect x="614" y="206" width="3" height="3" fill="#000"/>
<rect x="614" y="206" width="1" height="1" fill="#000"/>
<rect x="614" y="208" width="1" height="1" fill="#000"/>
<rect x="613" y="205" width="1" height="1" fill="#000"/>
<rect x="613" y="209" width="1" height="1" fill="#000"/>
<rect x="612" y="204" width="1" height="1" fill="#000"/>
<rect x="612" y="210" width="1" height="1" fill="#000"/>
<rect x="611" y="203" width="1" height="1" fill="#000"/>
<rect x="611" y="211" width="1" height="1" fill="#000"/>
<rect x="616" y="206" width="1" height="1" fill="#000"/>
<rect x="616" y="208" width="1" height="1" fill="#000"/>
<rect x="617" y="205" width="1" height="1" fill="#000"/>
<rect x="617" y="209" width="1" height="1" fill="#000"/>
<rect x="618" y="204" width="1" height="1" fill="#000"/>
<rect x="618" y="210" width="1" height="1" fill="#000"/>
<rect x="636" y="149" width="1" height="117" fill="#000"/>
<rect x="634" y="149" width="5" height="1" fill="#000"/>
<rect x="634" y="265" width="5" height="1" fill="#000"/>
<rect x="632" y="207" width="9" height="1" fill="#000"/>
<rect x="636" y="203" width="1" height="9" fill="#000"/>
<rect x="635" y="206" width="3" height="3" fill="#000"/>
<rect x="635" y="206" width="1" height="1" fill="#000"/>
<rect x="635" y="208" width="1" height="1" fill="#000"/>
<rect x="634" y="205" width="1" height="1" fill="#000"/>
<rect x="634" y="209" width="1" height="1" fill="#000"/>
<rect x="633" y="204" width="1" height="1" fill="#000"/>
<rect x="633" y="210" width="1" height="1" fill="#000"/>
<rect x="632" y="203" width="1" height="1" fill="#000"/>
<rect x="632" y="211" width="1" height="1" fill="#000"/>
<rect x="637" y="206" width="1" height="1" fill="#000"/>
<rect x="637" y="208" width="1" height="1" fill="#000"/>
<rect x="638" y="205" width="1" height="1" fill="#000"/>
<rect x="638" y="209" width="1" height="1" fill="#000"/>
<rect x="639" y="204" width="1" height="1" fill="#000"/>
<rect x="639" y="210" width="1" height="1" fill="#000"/>
<rect x="657" y="162" width="1" height="117" fill="#000"/>
<rect x="655" y="162" width="5" height="1" fill="#000"/>
<rect x="655" y="278" width="5" height="1" fill="#000"/>
<rect x="653" y="220" width="9" height="1" fill="#000"/>
<rect x="657" y="216" width="1" height="9" fill="#000"/>
<rect x="656" y="219" width="3" height="3" fill="#000"/>
<rect x="656" y="219" width="1" height="1" fill="#000"/>
<rect x="656" y="221" width="1" height="1" fill="#000"/>
<rect x="655" y="218" width="1" height="1" fill="#000"/>
<rect x="655" y="222" width="1" height="1" fill="#000"/>
<rect x="654" y="217" width="1" height="1" fill="#000"/>
<rect x="654" y="223" width="1" height="1" fill="#000"/>
<rect x="653" y="216" width="1" height="1" fill="#000"/>
<rect x="653" y="224" width="1" height="1" fill="#000"/>
<rect x="658" y="219" width="1" height="1" fill="#000"/>
<rect x="658" y="221" width="1" height="1" fill="#000"/>
<rect x="659" y="218" width="1" height="1" fill="#000"/>
<rect x="659" y="222" width="1" height="1" fill="#000"/>
<rect x="660" y="217" width="1" height="1" fill="#000"/>
<rect x="660" y="223" width="1" height="1" fill="#000"/>
<rect x="678" y="171" width="1" height="116" fill="#000"/>
<rect x="676" y="171" width="5" height="1" fill="#000"/>
<rect x="676" y="286" width="5" height="1" fill="#000"/>
<rect x="674" y="228" width="9" height="1" fill="#000"/>
<rect x="678" y="224" width="1" height="9" fill="#000"/>
<rect x="677" y="227" width="3" height="3" fill="#000"/>
<rect x="677" y="227" width="1" height="1" fill="#000"/>
<rect x="677" y="229" width="1" height="1" fill="#000"/>
<rect x="676" y="226" width="1" height="1" fill="#000"/>
<rect x="676" y="230" width="1" height="1" fill="#000"/>
<rect x="675" y="225" width="1" height="1" fill="#000"/>
<rect x="675" y="231" width="1" height="1" fill="#000"/>
<rect x="674" y="224" width="1" height="1" fill="#000"/>
<rect x="674" y="232" width="1" height="1" fill="#000"/>
<rect x="679" y="227" width="1" height="1" fill="#000"/>
<rect x="679" y="229" width="1" height="1" fill="#000"/>
<rect x="680" y="226" width="1" height="1" fill="#000"/>
<rect x="680" y="230" width="1" height="1" fill="#000"/>
<rect x="681" y="225" width="1" height="1" fill="#000"/>
<rect x="681" y="231" width="1" height="1" fill="#000"/>
<rect x="699" y="191" width="1" height="115" fill="#000"/>
<rect x="697" y="191" width="5" height="1" fill="#000"/>
<rect x="697" y="305" width="5" height="1" fill="#000"/>
<rect x="695" y="248" width="9" height="1" fill="#000"/>
<rect x="699" y="244" width="1" height="9" fill="#000"/>
<rect x="698" y="247" width="3" height="3" fill="#000"/>
<rect x="698" y="247" width="1" height="1" fill="#000"/>
<rect x="698" y="249" width="1" height="1" fill="#000"/>
<rect x="697" y="246" width="1" height="1" fill="#000"/>
<rect x="697" y="250" width="1" height="1" fill="#000"/>
<rect x="696" y="245" width="1" height="1" fill="#000"/>
<rect x="696" y="251" width="1" height="1" fill="#000"/>
<rect x="695" y="244" width="1" height="1" fill="#000"/>
<rect x="695" y="252" width="1" height="1" fill="#000"/>
<rect x="700" y="247" width="1" height="1" fill="#000"/>
<rect x="700" y="249" width="1" height="1" fill="#000"/>
<rect x="701" y="246" width="1" height="1" fill="#000"/>
<rect x="701" y="250" width="1" height="1" fill="#000"/>
<rect x="702" y="245" width="1" height="1" fill="#000"/>
<rect x="702" y="251" width="1" height="1" fill="#000"/>
<rect x="720" y="122" width="1" height="117" fill="#000"/>
<rect x="718" y="122" width="5" height="1" fill="#000"/>
<rect x="718" y="238" width="5" height="1" fill="#000"/>
<rect x="716" y="180" width="9" height="1" fill="#000"/>
<rect x="720" y="176" width="1" height="9" fill="#000"/>
<rect x="719" y="179" width="3" height="3" fill="#000"/>
<rect x="719" y="179" width="1" height="1" fill="#000"/>
<rect x="719" y="181" width="1" height="1" fill="#000"/>
<rect x="718" y="178" width="1" height="1" fill="#000"/>
<rect x="718" y="182" width="1" height="1" fill="#000"/>
<rect x="717" y="177" width="1" height="1" fill="#000"/>
<rect x="717" y="183" width="1" height="1" fill="#000"/>
<rect x="716" y="176" width="1" height="1" fill="#000"/>
<rect x="716" y="184" width="1" height="1" fill="#000"/>
<rect x="721" y="179" width="1" height="1" fill="#000"/>
<rect x="721" y="181" width="1" height="1" fill="#000"/>
<rect x="722" y="178" width="1" height="1" fill="#000"/>
<rect x="722" y="182" width="1" height="1" fill="#000"/>
<rect x="723" y="177" width="1" height="1" fill="#000"/>
<rect x="723" y="183" width="1" height="1" fill="#000"/>
<rect x="741" y="170" width="1" height="116" fill="#000"/>
<rect x="739" y="170" width="5" height="1" fill="#000"/>
<rect x="739" y="285" width="5" height="1" fill="#000"/>
<rect x="737" y="228" width="9" height="1" fill="#000"/>
<rect x="741" y="224" width="1" height="9" fill="#000"/>
<rect x="740" y="227" width="3" height="3" fill="#000"/>
<rect x="740" y="227" width="1" height="1" fill="#000"/>
<rect x="740" y="229" width="1" height="1" fill="#000"/>
<rect x="739" y="226" width="1" height="1" fill="#000"/>
<rect x="739" y="230" width="1" height="1" fill="#000"/>
<rect x="738" y="225" width="1" height="1" fill="#000"/>
<rect x="738" y="231" width="1" height="1" fill="#000"/>
<rect x="737" y="224" width="1" height="1" fill="#000"/>
<rect x="737" y="232" width="1" height="1" fill="#000"/>
<rect x="742" y="227" width="1" height="1" fill="#000"/>
<rect x="742" y="229" width="1" height="1" fill="#000"/>
<rect x="743" y="226" width="1" height="1" fill="#000"/>
<rect x="743" y="230" width="1" height="1" fill="#000"/>
<rect x="744" y="225" width="1" height="1" fill="#000"/>
<rect x="744" y="231" width="1" height="1" fill="#000"/>
<rect x="89" y="300" width="22" height="1" fill="#ff0000"/>
<rect x="88" y="301" width="23" height="1" fill="#ff0000"/>
</g>
<g>
<text transform="translate(84.7,69.9) scale(0.985,1)" font-size="19" text-anchor="end">10.2</text>
<text transform="translate(84.7,158.9) scale(0.985,1)" font-size="19" text-anchor="end">10</text>
<text transform="translate(85.2,248.9) scale(0.985,1)" font-size="19" text-anchor="end">9.8</text>
<text transform="translate(85.2,338.9) scale(0.985,1)" font-size="19" text-anchor="end">9.6</text>
<text transform="translate(85.2,427.9) scale(0.985,1)" font-size="19" text-anchor="end">9.4</text>
<text transform="translate(85.2,517.9) scale(0.985,1)" font-size="19" text-anchor="end">9.2</text>
<text transform="translate(88.7,533) scale(0.985,1)" font-size="19" text-anchor="middle">0</text>
<text transform="translate(193.7,533) scale(0.985,1)" font-size="19" text-anchor="middle">5</text>
<text transform="translate(298.7,533) scale(0.985,1)" font-size="19" text-anchor="middle">10</text>
<text transform="translate(403.7,533) scale(0.985,1)" font-size="19" text-anchor="middle">15</text>
<text transform="translate(509.7,533) scale(0.985,1)" font-size="19" text-anchor="middle">20</text>
<text transform="translate(614.7,533) scale(0.985,1)" font-size="19" text-anchor="middle">25</text>
<text transform="translate(719.7,533) scale(0.985,1)" font-size="19" text-anchor="middle">30</text>
<text transform="translate(805.0,553.9) scale(0.975,1)" font-size="19.4" text-anchor="end">Chan #</text>
<text transform="translate(46.1,56.9) rotate(-90) scale(0.899,1)" font-size="20.2" text-anchor="end">Fit Par1</text>
<text transform="translate(448.3,27.6) scale(0.943,1)" font-size="29.7" text-anchor="middle">Fit Par 1 : Chip 6367</text>
</g>
</svg>
</body></html>
